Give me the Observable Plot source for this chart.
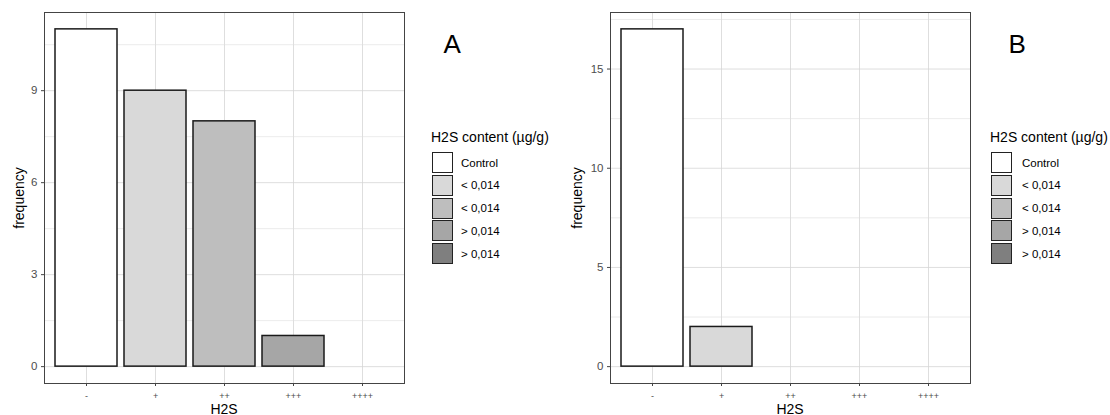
<!DOCTYPE html>
<html>
<head>
<meta charset="utf-8">
<script src="https://cdn.jsdelivr.net/npm/d3@7"></script>
<script src="https://cdn.jsdelivr.net/npm/@observablehq/plot@0.6"></script>
<style>
  html, body { margin: 0; padding: 0; background: #fff; }
  #root { position: relative; width: 1110px; height: 415px; overflow: hidden; font-family: "Liberation Sans", Arial, sans-serif; }
  .abs { position: absolute; white-space: nowrap; }
  .svgwrap { position: absolute; top: 0; }
  .axtitle { font-size: 14px; color: #000; line-height: 14px; }
  .xtitle { font-size: 14px; color: #000; line-height: 12px; }
  .ltitle { font-size: 14px; line-height: 14px; color: #000; }
  .key { position: absolute; width: 21px; height: 21px; box-sizing: border-box; border: 1.5px solid #222; }
  .klab { position: absolute; font-size: 11.5px; line-height: 12px; color: #000; }
  .letter { font-family: "Liberation Sans", Arial, sans-serif; font-size: 26px; line-height: 26px; color: #000; }
</style>
</head>
<body>
<div id="root"></div>
<script>
// ---- data ----
const categories = ["-", "+", "++", "+++", "++++"];
const panelACats = ["-", "+", "++", "+++"];
const panelAValues = [11, 9, 8, 1];
const panelBCats = ["-", "+"];
const panelBValues = [17, 2];
const catFills = ["#ffffff", "#d9d9d9", "#bebebe", "#a6a6a6", "#7f7f7f"];
const legendTitle = "H2S content (µg/g)";
const legendLabels = ["Control", "< 0,014", "< 0,014", "> 0,014", "> 0,014"];
const legendFills = ["#ffffff", "#d9d9d9", "#bebebe", "#a6a6a6", "#7f7f7f"];
const panelATicks = [0, 3, 6, 9];
const panelAMinor = [1.5, 4.5, 7.5, 10.5];
const panelADomain = [-0.55, 11.55];
const panelBTicks = [0, 5, 10, 15];
const panelBMinor = [2.5, 7.5, 12.5, 17.5];
const panelBDomain = [-0.85, 17.85];

const root = document.getElementById("root");

function makePanel(cats, values, ticks, minor, domain) {
  const data = cats.map((c, i) => ({cat: c, n: values[i], fill: catFills[categories.indexOf(c)]}));
  return Plot.plot({
    width: 415,
    height: 415,
    marginLeft: 44,
    marginRight: 11,
    marginTop: 12,
    marginBottom: 32,
    style: {fontFamily: "Liberation Sans, Arial, sans-serif", background: "transparent", overflow: "visible"},
    x: {type: "band", domain: categories, paddingInner: 0.1, paddingOuter: 0.15, align: 0.5},
    y: {domain: domain},
    color: {type: "identity"},
    marks: [
      Plot.gridX({stroke: "#d6d6d6", strokeOpacity: 1, strokeWidth: 0.8}),
      Plot.gridY(minor, {stroke: "#dedede", strokeOpacity: 1, strokeWidth: 0.6}),
      Plot.gridY(ticks, {stroke: "#d6d6d6", strokeOpacity: 1, strokeWidth: 0.8}),
      Plot.barY(data, {x: "cat", y: "n", fill: "fill", stroke: "#1a1a1a", strokeWidth: 1.5}),
      Plot.frame({stroke: "#444", strokeWidth: 1}),
      Plot.axisY({ticks: ticks, tickSize: 3, tickPadding: 4, fontSize: 11.5, label: null, stroke: "#444", fill: "#4d4d4d", tickFormat: d => String(d)}),
      Plot.axisX({tickSize: 3, tickPadding: 6, fontSize: 9, label: null, stroke: "#444", fill: "#4d4d4d"})
    ]
  });
}

function addPanel(left, cats, values, ticks, minor, domain, ytitleX, legendLeft, labelOffset, letter, letterLeft) {
  const wrap = document.createElement("div");
  wrap.className = "svgwrap";
  wrap.style.left = left + "px";
  wrap.appendChild(makePanel(cats, values, ticks, minor, domain));
  root.appendChild(wrap);

  // x-axis title
  const xt = document.createElement("div");
  xt.className = "abs xtitle";
  xt.textContent = "H2S";
  xt.style.left = (left + 44) + "px";
  xt.style.width = (415 - 44 - 11) + "px";
  xt.style.textAlign = "center";
  xt.style.top = "402.5px";
  root.appendChild(xt);

  // y-axis title
  const yt = document.createElement("div");
  yt.className = "abs axtitle";
  yt.textContent = "frequency";
  yt.style.left = ytitleX + "px";
  yt.style.top = "197.5px";
  yt.style.transform = "translate(-50%, -50%) rotate(-90deg)";
  root.appendChild(yt);

  // legend
  const lt = document.createElement("div");
  lt.className = "abs ltitle";
  lt.textContent = legendTitle;
  lt.style.left = legendLeft + "px";
  lt.style.top = "130px";
  root.appendChild(lt);
  legendLabels.forEach((lab, i) => {
    const top = 152 + i * 22.75;
    const k = document.createElement("div");
    k.className = "key";
    k.style.left = (legendLeft + 1) + "px";
    k.style.top = top + "px";
    k.style.background = legendFills[i];
    root.appendChild(k);
    const t = document.createElement("div");
    t.className = "abs klab";
    t.textContent = lab;
    t.style.left = (legendLeft + labelOffset) + "px";
    t.style.top = (top + 4.5) + "px";
    root.appendChild(t);
  });

  const L = document.createElement("div");
  L.className = "abs letter";
  L.textContent = letter;
  L.style.left = letterLeft + "px";
  L.style.top = "31px";
  root.appendChild(L);
}

addPanel(0, panelACats, panelAValues, panelATicks, panelAMinor, panelADomain, 18.5, 431, 30, "A", 443.5);
addPanel(566, panelBCats, panelBValues, panelBTicks, panelBMinor, panelBDomain, 577, 990, 32, "B", 1008.5);
</script>
</body>
</html>
